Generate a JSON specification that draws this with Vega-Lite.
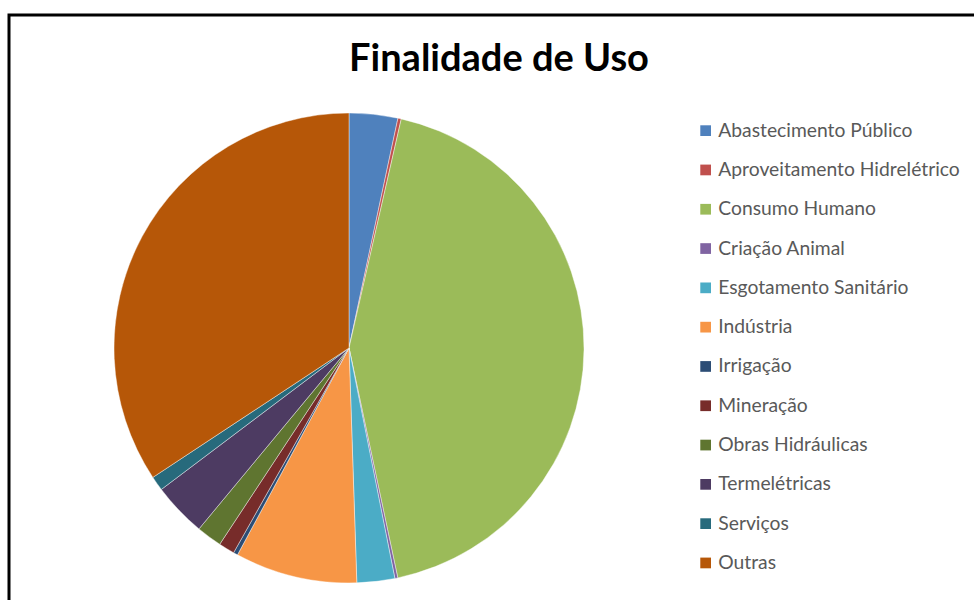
{
  "$schema": "https://vega.github.io/schema/vega-lite/v6.json",
  "width": 980,
  "height": 600,
  "autosize": {"type": "none"},
  "padding": {"left": 9, "top": 15, "right": 0, "bottom": 0},
  "background": "white",
  "view": {"stroke": "#000000", "strokeWidth": 3, "fill": "white"},
  "config": {
    "view": {"stroke": "#000000", "strokeWidth": 3},
    "font": "Lato"
  },
  "title": {
    "text": "Finalidade de Uso",
    "font": "Lato",
    "fontSize": 38,
    "fontWeight": "bold",
    "color": "#000000",
    "anchor": "middle",
    "offset": -54,
    "dy": 40,
    "baseline": "alphabetic"
  },
  "data": {
    "values": [
      {"ordem": 1, "finalidade": "Abastecimento Público", "percentual": 3.34},
      {"ordem": 2, "finalidade": "Aproveitamento Hidrelétrico", "percentual": 0.23},
      {"ordem": 3, "finalidade": "Consumo Humano", "percentual": 43.1},
      {"ordem": 4, "finalidade": "Criação Animal", "percentual": 0.2},
      {"ordem": 5, "finalidade": "Esgotamento Sanitário", "percentual": 2.6},
      {"ordem": 6, "finalidade": "Indústria", "percentual": 8.4},
      {"ordem": 7, "finalidade": "Irrigação", "percentual": 0.3},
      {"ordem": 8, "finalidade": "Mineração", "percentual": 1.1},
      {"ordem": 9, "finalidade": "Obras Hidráulicas", "percentual": 1.75},
      {"ordem": 10, "finalidade": "Termelétricas", "percentual": 3.7},
      {"ordem": 11, "finalidade": "Serviços", "percentual": 1.0},
      {"ordem": 12, "finalidade": "Outras", "percentual": 34.28}
    ]
  },
  "mark": {
    "type": "arc",
    "x": 340,
    "y": 333,
    "outerRadius": 235,
    "stroke": "#ffffff",
    "strokeWidth": 0.6,
    "strokeOpacity": 0.7
  },
  "encoding": {
    "theta": {"field": "percentual", "type": "quantitative", "stack": true},
    "order": {"field": "ordem", "type": "quantitative", "sort": "ascending"},
    "color": {
      "field": "finalidade",
      "type": "nominal",
      "sort": null,
      "scale": {
        "domain": ["Abastecimento Público", "Aproveitamento Hidrelétrico", "Consumo Humano", "Criação Animal", "Esgotamento Sanitário", "Indústria", "Irrigação", "Mineração", "Obras Hidráulicas", "Termelétricas", "Serviços", "Outras"],
        "range": ["#4F81BD", "#C0504D", "#9BBB59", "#8064A2", "#4BACC6", "#F79646", "#2C4D75", "#772C2A", "#5F7530", "#4D3B62", "#276A7C", "#B65708"]
      },
      "legend": {
        "title": null,
        "orient": "none",
        "legendX": 687,
        "legendY": 106,
        "symbolType": "square",
        "symbolSize": 115,
        "symbolStrokeWidth": 0,
        "labelFont": "Lato",
        "labelFontSize": 19.3,
        "labelColor": "#595959",
        "labelOffset": 3,
        "labelLimit": 400,
        "rowPadding": 19.3
      }
    }
  }
}
